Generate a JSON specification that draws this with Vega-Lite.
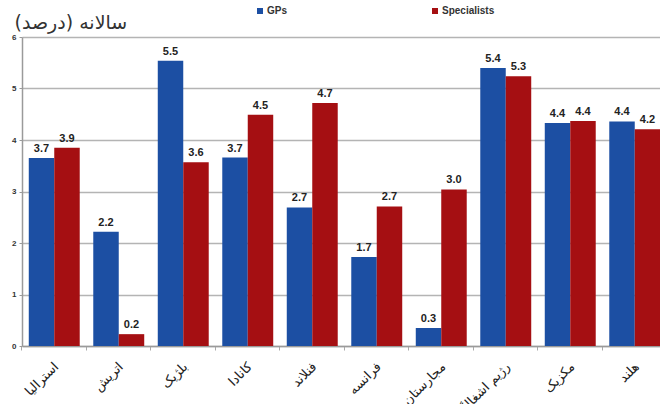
{
  "$schema": "https://vega.github.io/schema/vega-lite/v6.json",
  "autosize": {"type": "none"},
  "width": 645,
  "height": 309,
  "padding": {"left": 22, "top": 37, "right": 0, "bottom": 58},
  "background": "white",
  "title": {"text": "سالانه (درصد)", "anchor": "start", "font": "DejaVu Sans", "fontSize": 19, "fontWeight": "normal", "color": "#333333", "offset": 0, "dy": 27, "dx": 3},
  "config": {"view": {"stroke": null}},
  "data": {"values": [
    {"country": "استرالیا", "type": "GPs", "value": 3.65, "label": "3.7"},
    {"country": "استرالیا", "type": "Specialists", "value": 3.85, "label": "3.9"},
    {"country": "اتریش", "type": "GPs", "value": 2.22, "label": "2.2"},
    {"country": "اتریش", "type": "Specialists", "value": 0.23, "label": "0.2"},
    {"country": "بلژیک", "type": "GPs", "value": 5.54, "label": "5.5"},
    {"country": "بلژیک", "type": "Specialists", "value": 3.57, "label": "3.6"},
    {"country": "کانادا", "type": "GPs", "value": 3.66, "label": "3.7"},
    {"country": "کانادا", "type": "Specialists", "value": 4.49, "label": "4.5"},
    {"country": "فنلاند", "type": "GPs", "value": 2.69, "label": "2.7"},
    {"country": "فنلاند", "type": "Specialists", "value": 4.72, "label": "4.7"},
    {"country": "فرانسه", "type": "GPs", "value": 1.73, "label": "1.7"},
    {"country": "فرانسه", "type": "Specialists", "value": 2.71, "label": "2.7"},
    {"country": "مجارستان", "type": "GPs", "value": 0.35, "label": "0.3"},
    {"country": "مجارستان", "type": "Specialists", "value": 3.04, "label": "3.0"},
    {"country": "رژیم اشغالگر قدس", "type": "GPs", "value": 5.4, "label": "5.4"},
    {"country": "رژیم اشغالگر قدس", "type": "Specialists", "value": 5.24, "label": "5.3"},
    {"country": "مکزیک", "type": "GPs", "value": 4.33, "label": "4.4"},
    {"country": "مکزیک", "type": "Specialists", "value": 4.37, "label": "4.4"},
    {"country": "هلند", "type": "GPs", "value": 4.36, "label": "4.4"},
    {"country": "هلند", "type": "Specialists", "value": 4.21, "label": "4.2"}
  ]},
  "encoding": {
    "x": {
      "field": "country", "type": "nominal", "sort": null,
      "scale": {"paddingInner": 0.21, "paddingOuter": 0.105},
      "axis": {
        "title": null, "labelAngle": -45, "labelFont": "DejaVu Sans", "labelFontSize": 13,
        "labelColor": "#222222", "labelOverlap": false, "labelPadding": 10, "labelOffset": -2,
        "domainColor": "#9a9a9a", "domainWidth": 1.5, "tickColor": "#aaaaaa", "tickSize": 4,
        "bandPosition": -0.133
      }
    },
    "xOffset": {"field": "type", "type": "nominal", "sort": ["GPs", "Specialists"]},
    "y": {
      "field": "value", "type": "quantitative",
      "scale": {"domain": [0, 6], "nice": false},
      "axis": {
        "title": null, "values": [0, 1, 2, 3, 4, 5, 6], "grid": true, "gridColor": "#b4b4b4", "gridWidth": 1.5,
        "domainColor": "#9a9a9a", "domainWidth": 1.5, "tickColor": "#9a9a9a", "tickSize": 3,
        "labelFont": "Liberation Sans", "labelFontSize": 8, "labelFontWeight": "bold", "labelColor": "#333333", "labelPadding": 3
      }
    }
  },
  "layer": [
    {
      "mark": {"type": "bar"},
      "encoding": {
        "color": {
          "field": "type", "type": "nominal",
          "scale": {"domain": ["GPs", "Specialists"], "range": ["#1c4fa3", "#a50f12"]},
          "legend": {
            "orient": "none", "legendX": 233, "legendY": -31, "direction": "horizontal", "title": null,
            "symbolType": "square", "symbolSize": 36, "labelFont": "Liberation Sans", "labelFontSize": 10,
            "labelFontWeight": "bold", "labelColor": "#333333", "columnPadding": 142, "labelOffset": 2
          }
        }
      }
    },
    {
      "mark": {"type": "text", "dy": -4, "baseline": "bottom", "font": "Liberation Sans", "fontSize": 11, "fontWeight": "bold", "color": "#222222"},
      "encoding": {"text": {"field": "label"}}
    }
  ]
}
